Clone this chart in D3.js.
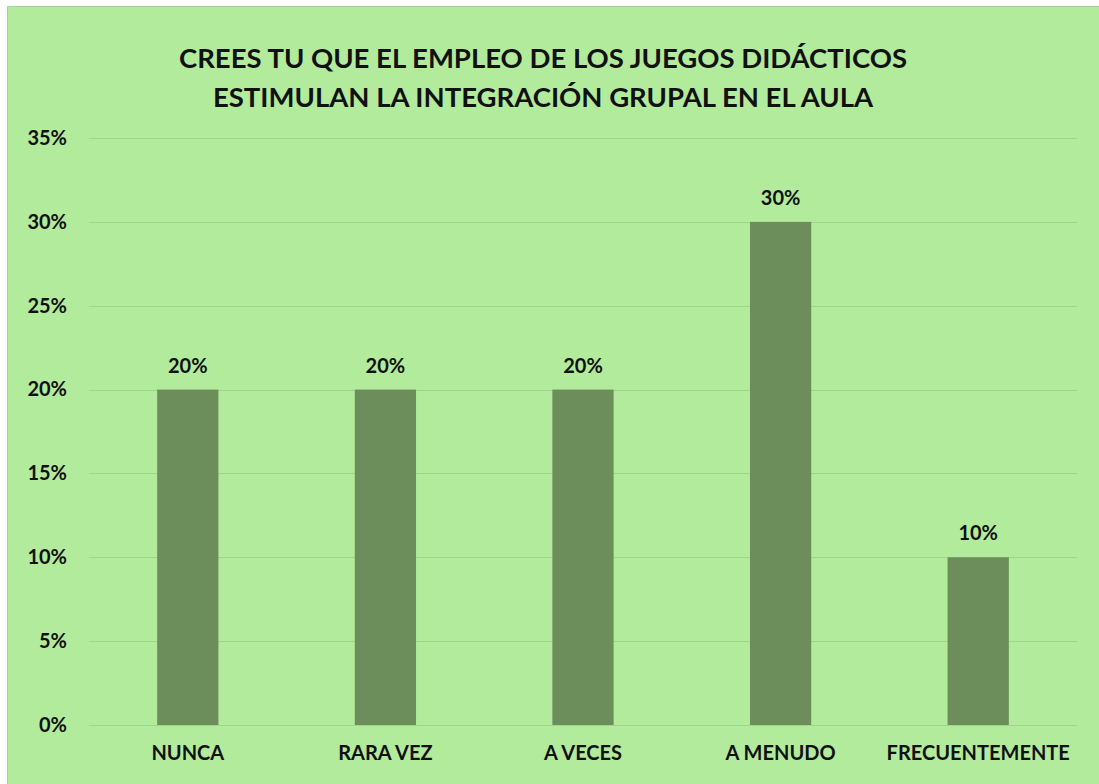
<!DOCTYPE html>
<html>
<head>
<meta charset="utf-8">
<script src="https://cdn.jsdelivr.net/npm/d3@7"></script>
<style>
  body { margin: 0; background: #fff; }
  text { font-family: Lato, "Open Sans", sans-serif; font-weight: bold; fill: #111; }
</style>
</head>
<body>
<div id="chart"></div>
<script>
var categories = ['NUNCA', 'RARA VEZ', 'A VECES', 'A MENUDO', 'FRECUENTEMENTE'];
var values = [0.20, 0.20, 0.20, 0.30, 0.10];
var yTicks = [0, 0.05, 0.10, 0.15, 0.20, 0.25, 0.30, 0.35];
var titleLines = ['CREES TU QUE EL EMPLEO DE LOS JUEGOS DIDÁCTICOS', 'ESTIMULAN LA INTEGRACIÓN GRUPAL EN EL AULA'];

var W = 1099, H = 784;
var margin = {top: 138, right: 22, bottom: 59, left: 89};
var width = W - margin.left - margin.right;
var height = H - margin.top - margin.bottom;

var svg = d3.select('#chart').append('svg')
  .attr('width', W)
  .attr('height', H);

// background panel
svg.append('rect')
  .attr('x', 7.5).attr('y', 6.5)
  .attr('width', W).attr('height', H)
  .attr('fill', '#b3eb9d')
  .attr('stroke', '#a3d98d');

// title
svg.append('g').selectAll('text')
  .data(titleLines)
  .enter().append('text')
    .attr('x', 543)
    .attr('y', function(d, i) { return 68 + i * 39; })
    .attr('text-anchor', 'middle')
    .style('font-size', '27.5px')
    .text(function(d) { return d; });

var chart = svg.append('g')
  .attr('transform', 'translate(' + margin.left + ',' + margin.top + ')');

var x = d3.scaleBand()
  .domain(categories)
  .range([0, width])
  .padding(0);

var y = d3.scaleLinear()
  .domain([0, 0.35])
  .range([height, 0]);

// gridlines
chart.append('g').selectAll('line')
  .data(yTicks)
  .enter().append('line')
    .attr('x1', 0).attr('x2', width)
    .attr('y1', function(d) { return Math.round(y(d)) + 0.5; })
    .attr('y2', function(d) { return Math.round(y(d)) + 0.5; })
    .attr('stroke', '#9fd489')
    .attr('stroke-width', 1);

// y axis
var yAxis = d3.axisLeft(y)
  .tickValues(yTicks)
  .tickFormat(d3.format('.0%'))
  .tickSize(0)
  .tickPadding(22);
chart.append('g')
  .call(yAxis)
  .call(function(g) { g.select('.domain').remove(); })
  .selectAll('text')
    .style('font-size', '20px')
    .style('font-family', 'Lato, sans-serif')
    .attr('fill', '#111');

// x axis
var xAxis = d3.axisBottom(x).tickSize(0).tickPadding(21);
chart.append('g')
  .attr('transform', 'translate(0,' + height + ')')
  .call(xAxis)
  .call(function(g) { g.select('.domain').remove(); })
  .selectAll('text')
    .style('font-size', '20px')
    .style('font-family', 'Lato, sans-serif')
    .attr('fill', '#111');

// bars
var barW = x.bandwidth() * 0.31;
chart.append('g').selectAll('.bar')
  .data(values)
  .enter().append('rect')
    .classed('bar', true)
    .attr('x', function(d, i) { return x(categories[i]) + x.bandwidth() / 2 - barW / 2; })
    .attr('y', function(d) { return y(d); })
    .attr('width', barW)
    .attr('height', function(d) { return height - y(d); })
    .attr('fill', '#6b8e5b');

// data labels
chart.append('g').selectAll('text')
  .data(values)
  .enter().append('text')
    .attr('x', function(d, i) { return x(categories[i]) + x.bandwidth() / 2; })
    .attr('y', function(d) { return y(d) - 17; })
    .attr('text-anchor', 'middle')
    .style('font-size', '20px')
    .text(function(d) { return d3.format('.0%')(d); });
</script>
</body>
</html>
